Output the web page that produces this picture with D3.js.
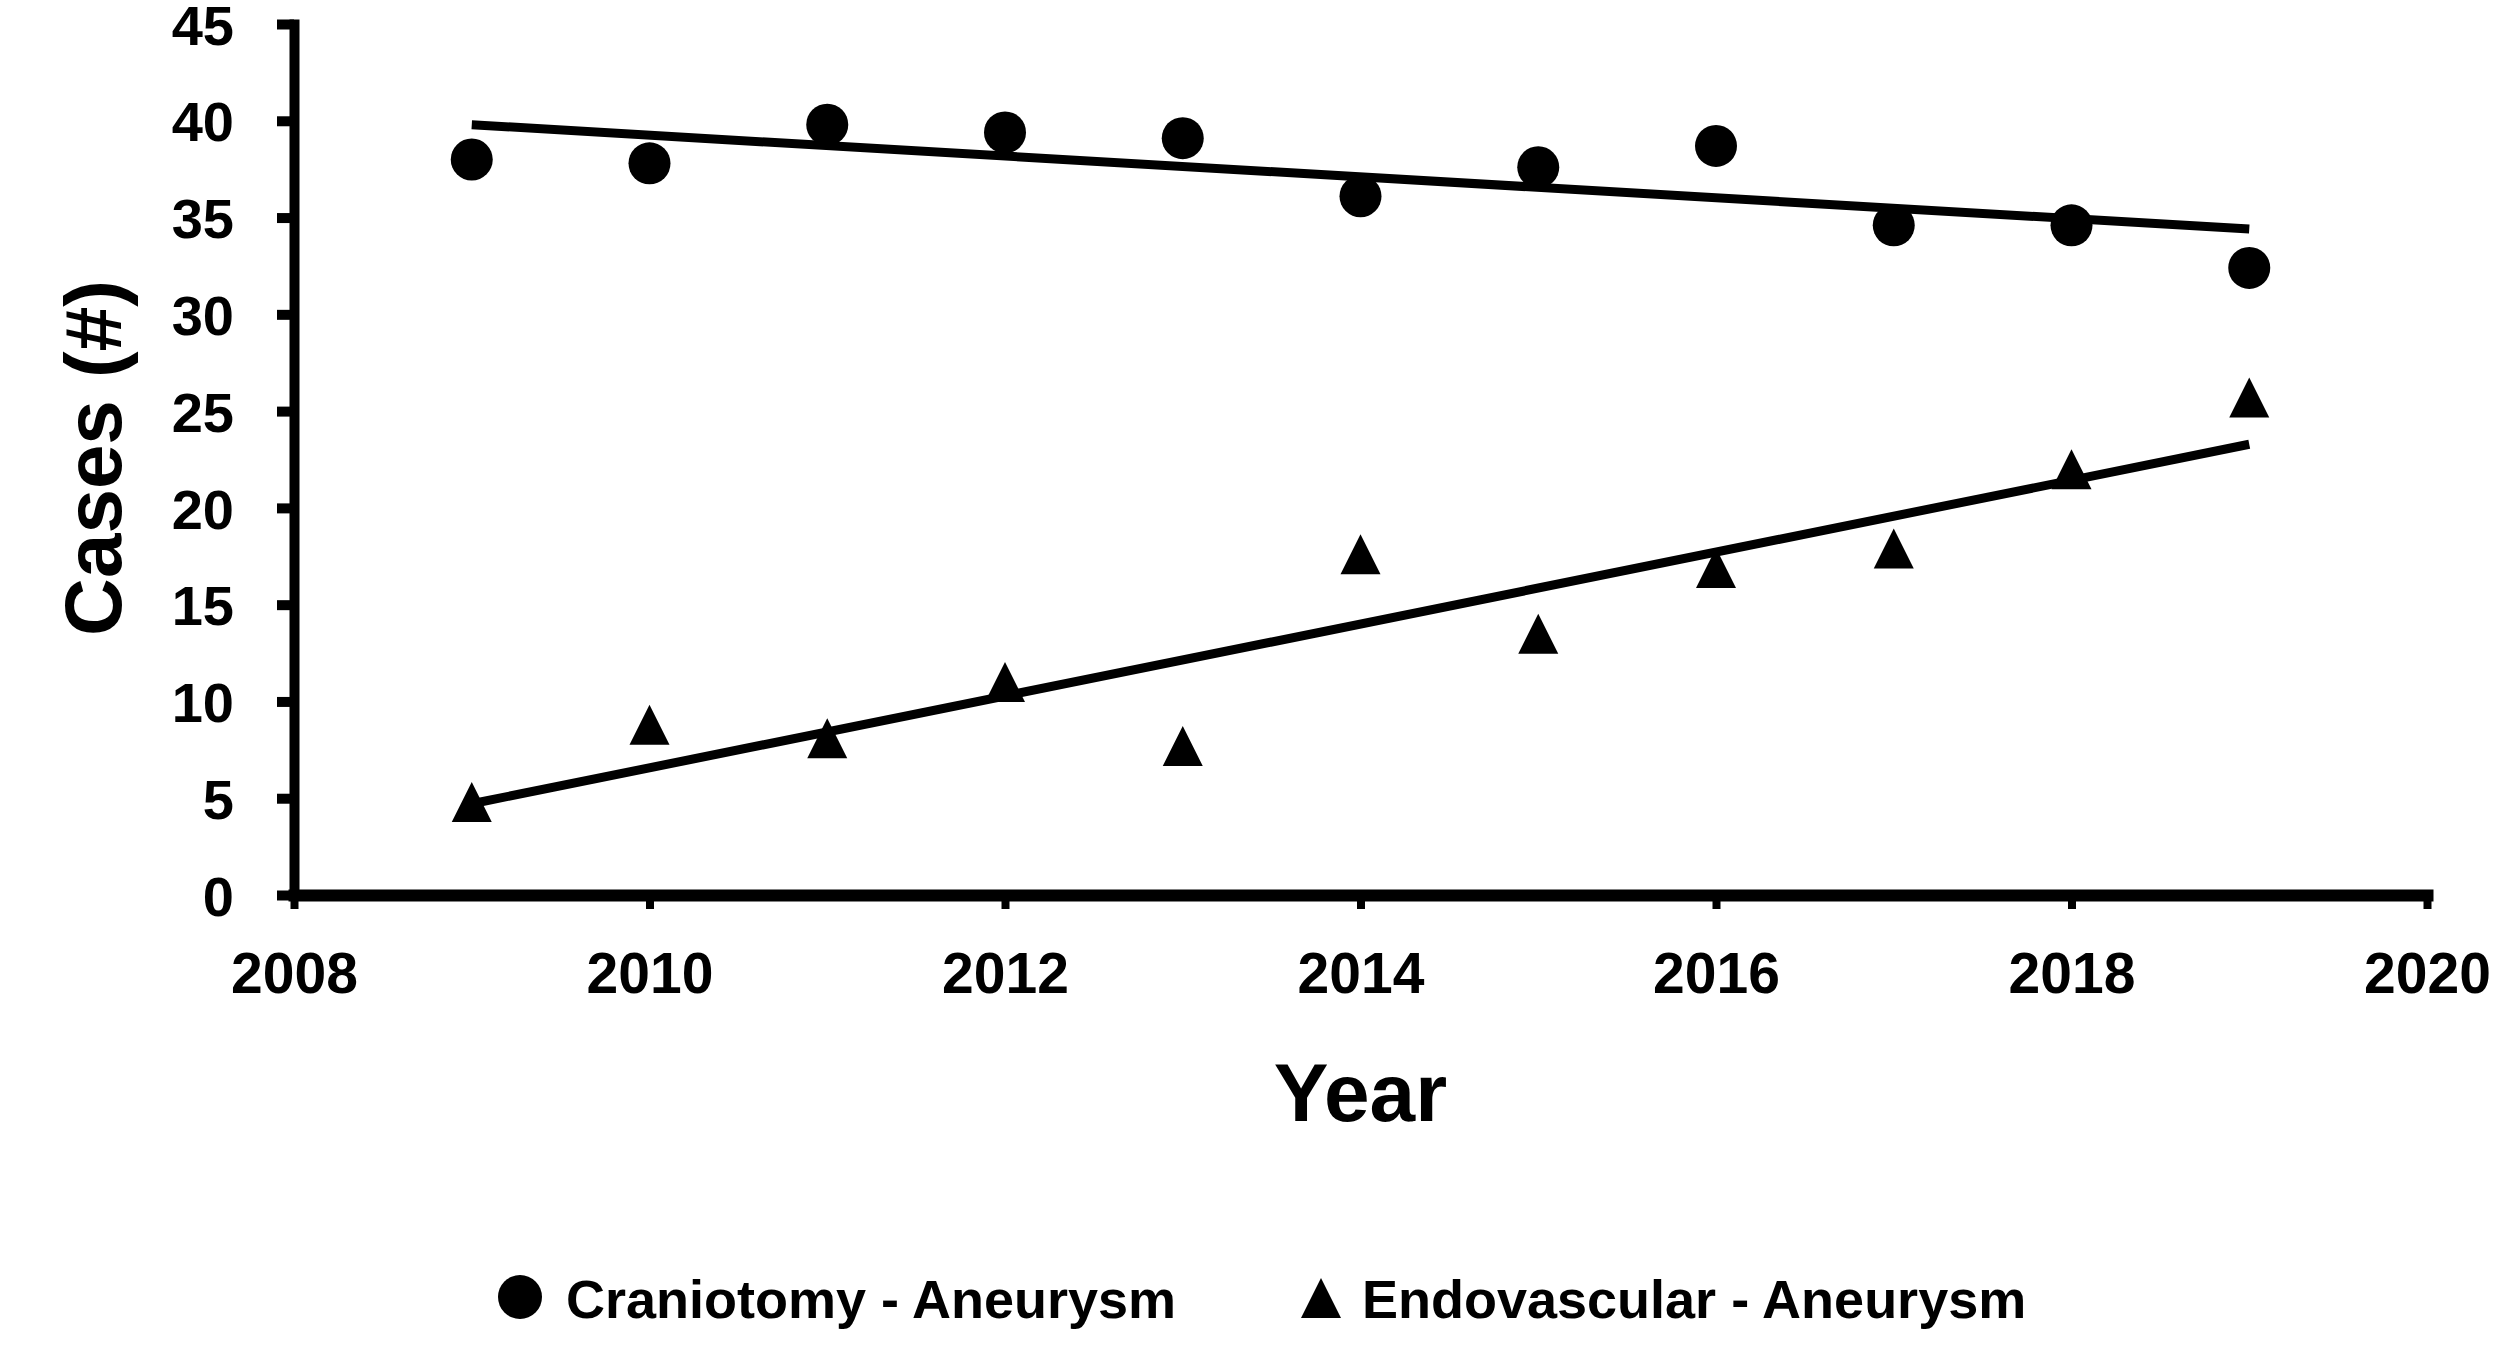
<!DOCTYPE html>
<html>
    <head>
        <meta charset="utf-8">
        <title>Cases per year</title>
        <style>
            body { margin: 0; background: #fff; }
            svg text { font-family: "Liberation Sans", Arial, sans-serif; font-weight: bold; fill: #000; }
        </style>
    </head>
    <body>
        <script src="https://cdn.jsdelivr.net/npm/d3@7"></script>
        <script>
            // values
            const years = [2009, 2010, 2011, 2012, 2013, 2014, 2015, 2016, 2017, 2018, 2019];
            const craniotomy = [38.0, 37.8, 39.8, 39.4, 39.1, 36.1, 37.6, 38.7, 34.6, 34.6, 32.4];
            const endovascular = [4.8, 8.8, 8.1, 11.0, 7.7, 17.6, 13.5, 16.9, 17.9, 22.0, 25.7];
            const xTicks = [2008, 2010, 2012, 2014, 2016, 2018, 2020];
            const yTicks = [0, 5, 10, 15, 20, 25, 30, 35, 40, 45];
            const seriesNames = ["Craniotomy - Aneurysm", "Endovascular - Aneurysm"];

            const w = 2500, h = 1363;
            const margin = {top: 24, right: 73, bottom: 468, left: 294};

            const svg = d3.select("body")
                .append("svg")
                .attr("width", w)
                .attr("height", h);

            const xScale = d3.scaleLinear()
                .domain([2008, 2020])
                .range([margin.left, w - margin.right]);
            const yScale = d3.scaleLinear()
                .domain([0, 45])
                .range([h - margin.bottom, margin.top]);

            // least squares trendline
            function fit(xs, ys){
                const mx = d3.mean(xs), my = d3.mean(ys);
                const sxy = d3.sum(xs, (x, i) => (x - mx) * (ys[i] - my));
                const sxx = d3.sum(xs, (x) => (x - mx) * (x - mx));
                const b = sxy / sxx;
                return (x) => my + b * (x - mx);
            }

            const triPath = (s) => "M0," + (-s/2) + "L" + (s/2) + "," + (s/2) + "L" + (-s/2) + "," + (s/2) + "Z";

            const line = d3.line()
                .x((d) => xScale(d[0]))
                .y((d) => yScale(d[1]));

            [craniotomy, endovascular].forEach(function(vals){
                const f = fit(years, vals);
                const x0 = d3.min(years), x1 = d3.max(years);
                svg.append("path")
                    .datum([[x0, f(x0)], [x1, f(x1)]])
                    .attr("d", line)
                    .attr("fill", "none")
                    .attr("stroke", "#000")
                    .attr("stroke-width", 9);
            });

            // axes
            const yAxis = svg.append("g")
                .attr("transform", "translate(" + margin.left + ",0)")
                .call(d3.axisLeft(yScale).tickValues(yTicks).tickSize(17).tickSizeOuter(0).tickPadding(43));
            const xAxis = svg.append("g")
                .attr("transform", "translate(0," + (h - margin.bottom) + ")")
                .call(d3.axisBottom(xScale).tickValues(xTicks).tickFormat(d3.format("d")).tickSize(14).tickSizeOuter(0));

            yAxis.select(".domain").attr("stroke-width", 10).attr("stroke-linecap", "square");
            xAxis.select(".domain").attr("stroke-width", 12).attr("stroke-linecap", "square");
            yAxis.selectAll(".tick line").attr("stroke-width", 10);
            xAxis.selectAll(".tick line").attr("stroke-width", 8);
            yAxis.selectAll(".tick text")
                .style("font-size", "56px")
                .style("font-family", "'Liberation Sans', Arial, sans-serif")
                .style("font-weight", "bold")
                .attr("dy", "0.36em");
            xAxis.selectAll(".tick text")
                .style("font-size", "57px")
                .style("font-family", "'Liberation Sans', Arial, sans-serif")
                .style("font-weight", "bold")
                .attr("y", 98)
                .attr("dy", 0);

            // points
            svg.selectAll("circle.cran")
                .data(years)
                .enter()
                .append("circle")
                .attr("class", "cran")
                .attr("cx", (d) => xScale(d))
                .attr("cy", (d, i) => yScale(craniotomy[i]))
                .attr("r", 21)
                .attr("fill", "#000");

            svg.selectAll("path.endo")
                .data(years)
                .enter()
                .append("path")
                .attr("class", "endo")
                .attr("d", triPath(40))
                .attr("transform", (d, i) => "translate(" + xScale(d) + "," + yScale(endovascular[i]) + ")")
                .attr("fill", "#000");

            // axis titles
            svg.append("text")
                .text("Cases (#)")
                .attr("transform", "translate(92,458) rotate(-90)")
                .attr("text-anchor", "middle")
                .attr("dy", "0.36em")
                .style("font-size", "80px");
            svg.append("text")
                .text("Year")
                .attr("x", (xScale.range()[0] + xScale.range()[1]) / 2)
                .attr("y", 1121)
                .attr("text-anchor", "middle")
                .style("font-size", "82px");

            // legend
            const legend = svg.append("g").attr("id", "legend");
            legend.append("circle")
                .attr("cx", 520).attr("cy", 1297).attr("r", 22)
                .attr("fill", "#000");
            legend.append("text")
                .text(seriesNames[0])
                .attr("x", 566).attr("y", 1318)
                .style("font-size", "54px");
            legend.append("path")
                .attr("d", triPath(40))
                .attr("transform", "translate(1321,1298)")
                .attr("fill", "#000");
            legend.append("text")
                .text(seriesNames[1])
                .attr("x", 1362).attr("y", 1318)
                .style("font-size", "54px");
        </script>
    </body>
</html>
